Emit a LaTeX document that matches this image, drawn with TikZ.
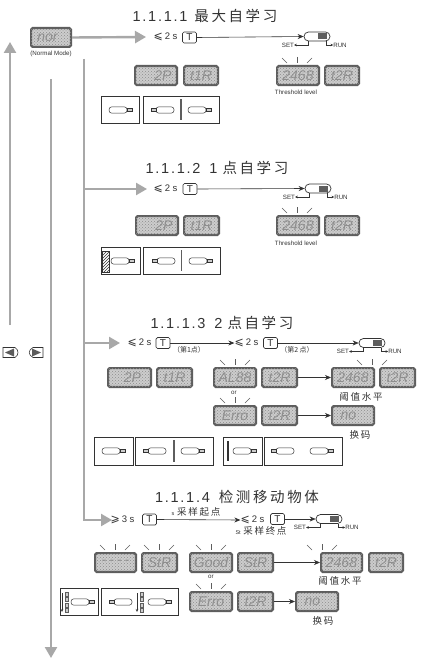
\documentclass[tikz,border=0pt]{standalone}
\usepackage{fontspec}
\usetikzlibrary{arrows.meta,patterns}
\setmainfont{Liberation Sans}
\newfontfamily\cjk[LetterSpace=18]{Noto Sans CJK SC}
\newfontfamily\cjktight{Noto Sans CJK SC}
\newfontfamily\ltitle[LetterSpace=12]{Liberation Sans}
\newfontfamily\djv{DejaVu Sans}
\definecolor{trunkgray}{HTML}{A8A8A8}
\definecolor{dispedge}{HTML}{5E5E5E}
\definecolor{dispfill}{HTML}{CDCDCD}
\definecolor{dispink}{HTML}{8E8E8E}
\definecolor{inkc}{HTML}{333333}
\tikzset{
  trunk/.style={draw=trunkgray,line width=2.4pt},
  trunkarrow/.style={trunk,-{Triangle[length=11pt,width=12pt,fill=trunkgray]}},
  thinarrow/.style={draw=inkc,line width=.6pt,-{Stealth[length=6pt,width=5pt]}},
  disp/.style={draw=dispedge,fill=dispfill,line width=2.2pt,rounded corners=1.5pt,inner sep=0pt,minimum height=18.8pt,text=dispink,font=\itshape\fontsize{14}{14}\selectfont,
    postaction={pattern=crosshatch dots,pattern color=black!45}},
  keyT/.style={draw=inkc,line width=.7pt,rounded corners=1.5pt,minimum width=14pt,minimum height=11pt,inner sep=0pt,font=\fontsize{10}{10}\selectfont,text=inkc},
  swbody/.style={draw=inkc,line width=.7pt,rounded corners=4.4pt,minimum width=26pt,minimum height=9pt,inner sep=0pt},
  swtext/.style={font=\fontsize{6.2}{7}\selectfont,text=inkc,inner sep=0pt},
  lbl/.style={text=inkc,inner sep=0pt},
  title/.style={lbl,font=\fontsize{14.5}{16}\selectfont},
  time/.style={lbl,font=\fontsize{9.5}{10}\selectfont},
  small/.style={lbl,font=\fontsize{6.2}{7}\selectfont},
  cjklbl/.style={lbl,font=\fontsize{9.5}{10}\selectfont},
  panel/.style={draw=inkc,line width=.7pt},
  flashmark/.style={draw=dispedge,line width=.6pt},
  divider/.style={draw=dispedge,line width=1.4pt},
}
% display: name, x0, x1, ytop, text
\newcommand{\disp}[5]{\node[disp,minimum width={#3pt-#2pt-2.2pt}] (#1) at ({(#2+#3)/2},{#4+10.5}) {#5};}
% flash marks: cx, ytop
\newcommand{\flash}[2]{
  \draw[flashmark] ({#1-15},{#2-7}) -- ({#1-10},{#2-2});
  \draw[flashmark] (#1,{#2-8}) -- (#1,{#2-2});
  \draw[flashmark] ({#1+15},{#2-7}) -- ({#1+10},{#2-2});}
% switch: name, cx, cy
\newcommand{\switchicon}[3]{
  \node[swbody] (#1) at (#2,#3) {};
  \fill[fill=dispedge] ({#2+1},{#3-3}) rectangle ({#2+10},{#3+3});
  \node[swtext] (#1s) at ({#2-29},{#3+8.5}) {SET};
  \node[swtext] (#1r) at ({#2+23},{#3+8.5}) {RUN};
  \draw[draw=inkc,line width=.6pt,-{Stealth[length=2.5pt,width=2.5pt]}] ({#2-9},{#3+4.5}) |- (#1s.east);
  \draw[draw=inkc,line width=.6pt,-{Stealth[length=2.5pt,width=2.5pt]}] ({#2+9},{#3+4.5}) |- (#1r.west);}
% sensors
\newcommand{\sensorR}[2]{
  \draw[draw=inkc,line width=.5pt,fill=white,rounded corners=2.8pt] ({#1-9},{#2-3.2}) rectangle ({#1+9},{#2+3.2});
  \draw[draw=inkc,line width=.4pt,fill=dispfill] ({#1+9},{#2-1.5}) rectangle ({#1+14},{#2+1.5});}
\newcommand{\sensorL}[2]{
  \draw[draw=inkc,line width=.5pt,fill=white,rounded corners=2.8pt] ({#1-9},{#2-3.2}) rectangle ({#1+9},{#2+3.2});
  \draw[draw=inkc,line width=.4pt,fill=dispfill] ({#1-14},{#2-1.5}) rectangle ({#1-9},{#2+1.5});}
\newcommand{\segbar}[2]{
  \foreach \k in {0,1,2,3} {\draw[draw=dispedge,line width=.5pt,fill=dispfill] ({#1-1.5},{#2+\k*5.5}) rectangle ({#1+1.5},{#2+\k*5.5+4});}
  \draw[draw=inkc,line width=.5pt,-{Stealth[length=3pt,width=2.5pt]}] ({#1-5},{#2+1}) -- ({#1-5},{#2+20});}
\newcommand{\tle}{{\djv\fontsize{11}{11}\selectfont ⩽}\hspace{2pt}}
\newcommand{\tge}{{\djv\fontsize{11}{11}\selectfont ⩾}\hspace{2pt}}
\begin{document}
\begin{tikzpicture}[x=1pt,y=-1pt]
\useasboundingbox[fill=white] (0,0) rectangle (421,661);

% ---- trunks
\coordinate (upfoot) at (10,325);
\coordinate (uptip) at (10,42);
\coordinate (downtop) at (51,79);
\coordinate (downtip) at (51,658);
\coordinate (trunktop) at (84,59);
\coordinate (trunkj2) at (84,189);
\coordinate (trunkj3) at (84,343);
\coordinate (trunkj4) at (84,518);
\coordinate (tip1) at (146,37);
\coordinate (tip2) at (147,189);
\coordinate (tip3) at (120,343);
\coordinate (tip4) at (112,520);
\draw[trunkarrow] (upfoot) -- (uptip);
\draw[trunkarrow] (downtop) -- (downtip);
\draw[trunk] (trunktop) -- (trunkj4);
\draw[trunkarrow] (trunkj2) -- (tip2);
\draw[trunkarrow] (trunkj3) -- (tip3);
\draw[trunkarrow] (trunkj4) -- ++(0,2) -- (tip4);

% ---- normal mode
\disp{nm}{30}{72}{27}{nor\,\,\,}
\node[small] (nml) at (51,54) {(Normal Mode)};
\draw[trunkarrow] (nm.east) -- (tip1);

% ---- left icons
\draw[draw=inkc,line width=.6pt,fill=white] (3,347.5) -- (15,347.5) .. controls (19,350) and (19,355) .. (15,357.5) -- (3,357.5) -- cycle;
\fill[fill=inkc!80] (5,352.5) -- (14,348.5) -- (14,356.5) -- cycle;
\draw[draw=inkc,line width=.6pt,fill=white] (43,347.5) -- (33,347.5) .. controls (28,350) and (28,355) .. (33,357.5) -- (43,357.5) -- cycle;
\fill[fill=inkc!80] (41,352.5) -- (32,348.5) -- (32,356.5) -- cycle;

% ---- 1.1.1.1
\node[title] (t1) at (205,15.5) {{\ltitle 1.1.1.1}\hspace{7pt}{\cjk 最大自学习}};
\node[time] (a1) at (165.5,37) {\tle 2 s};
\node[keyT] (k1) at (189.5,37.5) {T};
\switchicon{sw1}{317}{36.5}
\draw[thinarrow] (k1.east) -- (sw1.west);
\disp{d11}{134}{178}{65}{\hspace{14pt}2P}
\disp{d12}{183}{219}{65}{t1R}
\flash{297}{65}
\disp{d13}{276}{320}{65}{2468}
\disp{d14}{324}{360}{65}{t2R}
\node[small] (tl1) at (296,92) {Threshold level};
\draw[panel] (101,96) rectangle (139,123);
\draw[panel] (143,96) rectangle (219,123);
\draw[divider] (181,99) -- (181,120);
\sensorR{118}{110}
\sensorL{165}{110}
\sensorR{197}{110}

% ---- 1.1.1.2
\node[title] (t2) at (217,168) {{\ltitle 1.1.1.2\hspace{9pt}1}\hspace{5pt}{\cjk 点自学习}};
\node[time] (a2) at (165.5,189) {\tle 2 s};
\node[keyT] (k2) at (190,189) {T};
\switchicon{sw2}{318}{188.5}
\draw[thinarrow] (k2.east) -- (sw2.west);
\disp{d21}{135}{179}{215}{\hspace{14pt}2P}
\disp{d22}{183}{220}{215}{t1R}
\flash{297}{215}
\disp{d23}{276}{320}{215}{2468}
\disp{d24}{324}{360}{215}{t2R}
\node[small] (tl2) at (296,243) {Threshold level};
\draw[panel] (101,247) rectangle (140,274);
\draw[panel] (143,247) rectangle (220,274);
\draw[draw=inkc,line width=.5pt,pattern=north east lines,pattern color=inkc] (102,251) rectangle (109,272);
\draw[divider] (181.5,250) -- (181.5,271);
\sensorR{120}{261}
\sensorL{166}{261}
\sensorR{198}{261}

% ---- 1.1.1.3
\node[title] (t3) at (222,323) {{\ltitle 1.1.1.3\hspace{9pt}2}\hspace{5pt}{\cjk 点自学习}};
\node[time] (a3) at (139.5,343) {\tle 2 s};
\node[keyT] (k3) at (163,343) {T};
\node[time] (b3) at (246.5,343) {\tle 2 s};
\node[keyT] (m3) at (270.5,343) {T};
\switchicon{sw3}{372}{343}
\draw[thinarrow] (k3.east) -- (b3.west);
\draw[thinarrow] (m3.east) -- (sw3.west);
\node[lbl,font=\fontsize{7}{8}\selectfont] (p1) at (189,350) {\cjktight （第1点）};
\node[lbl,font=\fontsize{7}{8}\selectfont] (p2) at (297,350) {\cjktight （第2 点）};
\disp{d31}{107}{152}{367}{\hspace{6pt}2P}
\disp{d32}{156}{193}{367}{t1R}
\flash{235}{367}
\disp{d33}{213}{257}{367}{AL88}
\disp{d34}{261}{298}{367}{t2R}
\flash{372}{367}
\disp{d35}{331}{375}{367}{2468}
\disp{d36}{379}{416}{367}{t2R}
\draw[thinarrow] (d34.east) -- (d35.west);
\node[small] (or3) at (234,393) {or};
\flash{235}{405}
\disp{d37}{213}{257}{405}{Erro}
\disp{d38}{261}{298}{405}{t2R}
\disp{d39}{331}{375}{405}{no\,\,\,\,}
\draw[thinarrow] (d38.east) -- (d39.west);
\node[cjklbl] (v3) at (361,397) {\cjk 阈值水平};
\node[cjklbl] (h3) at (360,434.5) {\cjk 换码};
\draw[panel] (94,437) rectangle (133,465);
\draw[panel] (135,437) rectangle (213,465);
\draw[panel] (223,437) rectangle (262,465);
\draw[panel] (264,437) rectangle (342,465);
\draw[divider] (174,440) -- (174,462);
\draw[divider,draw=inkc] (228,441) -- (228,461);
\sensorR{111}{451}
\sensorL{157}{451}
\sensorR{190}{451}
\sensorR{242}{451}
\sensorL{285}{451}
\sensorR{319}{451}

% ---- 1.1.1.4
\node[title] (t4) at (237,497) {{\ltitle 1.1.1.4}\hspace{9pt}{\cjk 检测移动物体}};
\node[time] (a4) at (122.5,520) {\tge 3 s};
\node[keyT] (k4) at (149.5,519.5) {T};
\node[time] (b4) at (252.5,520) {\tle 2 s};
\node[keyT] (m4) at (277.5,519) {T};
\switchicon{sw4}{329}{519}
\draw[thinarrow] (k4.east) -- (b4.west);
\draw[thinarrow] (m4.east) -- (sw4.west);
\node[cjklbl] (s4) at (196,512) {{\fontsize{5.5}{6}\selectfont s} \cjk 采样起点};
\node[cjklbl] (e4) at (261,531) {{\fontsize{5.5}{6}\selectfont St} \cjk 采样终点};
\flash{115}{552}
\disp{d41}{94}{137}{552}{-\kern3pt-\kern3pt-\kern3pt-}
\flash{159}{552}
\disp{d42}{141}{178}{552}{StR}
\flash{211}{552}
\disp{d43}{189}{233}{552}{Good}
\disp{d44}{237}{274}{552}{StR}
\flash{322}{552}
\disp{d45}{320}{363}{552}{2468}
\disp{d46}{368}{404}{552}{t2R}
\draw[thinarrow] (d44.east) -- (d45.west);
\node[small] (or4) at (211,577) {or};
\flash{211}{591}
\disp{d47}{189}{233}{591}{Erro}
\disp{d48}{237}{274}{591}{t2R}
\disp{d49}{295}{339}{591}{no\,\,\,\,}
\draw[thinarrow] (d48.east) -- (d49.west);
\node[cjklbl] (v4) at (340,581) {\cjk 阈值水平};
\node[cjklbl] (h4) at (323,621) {\cjk 换码};
\draw[panel] (60,588) rectangle (98,615);
\draw[panel] (101,588) rectangle (178,615);
\segbar{67}{592}
\segbar{142}{592}
\sensorR{80}{602}
\sensorL{123}{602}
\sensorR{157}{602}
\end{tikzpicture}
\end{document}
